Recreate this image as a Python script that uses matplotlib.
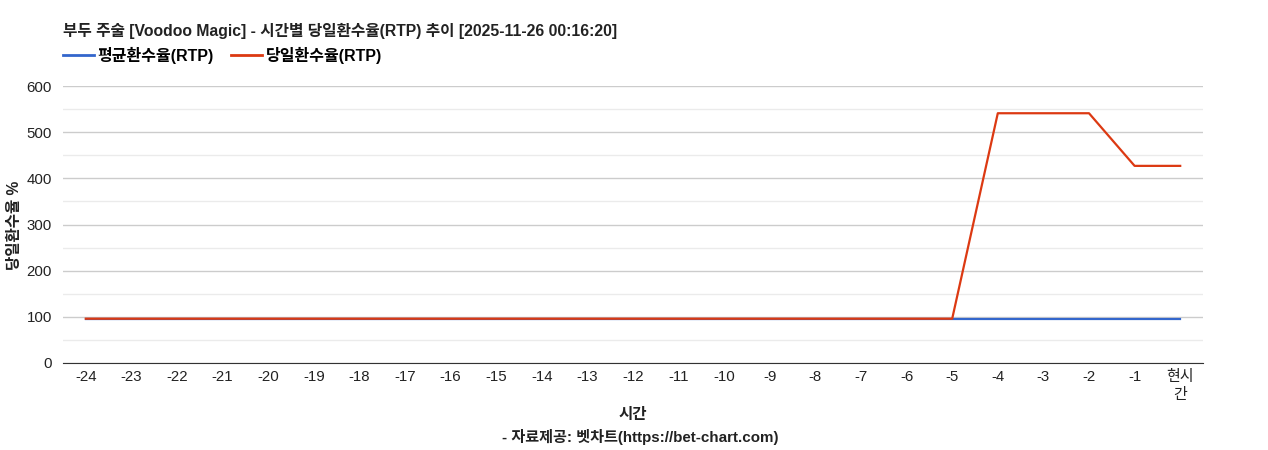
import matplotlib

matplotlib.use("Agg")
import matplotlib.pyplot as plt
from matplotlib.lines import Line2D

plt.rcParams["font.family"] = ["Liberation Sans", "Noto Sans CJK KR", "DejaVu Sans"]

TITLE = "부두 주술 [Voodoo Magic] - 시간별 당일환수율(RTP) 추이 [2025-11-26 00:16:20]"
hours = [str(h) for h in range(-24, 0)] + ["현시\n간"]
avg_rtp = [96] * 25
daily_rtp = [96] * 20 + [541, 541, 541, 427, 427]

COLORS = {
    "avg": "#3366cc",
    "daily": "#dc3912",
    "grid": "#cccccc",
    "minor": "#ebebeb",
    "text": "#222222",
}

W, H = 1268, 450
fig = plt.figure(figsize=(W / 100, H / 100), dpi=100)
ax = fig.add_axes([63 / W, 1 - 363 / H, 1140 / W, 277 / H])

x = list(range(len(hours)))
ax.plot(x, avg_rtp, color=COLORS["avg"], linewidth=1.6, zorder=3)
ax.plot(x, daily_rtp, color=COLORS["daily"], linewidth=1.6, zorder=4)

ax.set_xlim(-0.5, len(hours) - 0.5)
ax.set_ylim(0, 600)
ax.set_yticks(range(0, 601, 100))
ax.set_yticks(range(50, 600, 100), minor=True)
ax.grid(True, which="major", axis="y", color=COLORS["grid"], linewidth=1)
ax.grid(True, which="minor", axis="y", color=COLORS["minor"], linewidth=1)
ax.set_axisbelow(True)
ax.set_xticks(x, labels=hours)
for side in ("top", "right", "left"):
    ax.spines[side].set_visible(False)
ax.spines["bottom"].set_color("#333333")
ax.tick_params(axis="both", length=0, labelsize=10.8, colors=COLORS["text"])
ax.tick_params(axis="y", which="minor", length=0)
ax.tick_params(axis="x", pad=5)
ax.tick_params(axis="y", pad=8)
for lab in ax.get_xticklabels():
    lab.set_linespacing(1.35)
    lab.set_verticalalignment("top")

fig.text(15 / W, 1 - 225 / H, "당일환수율 %", rotation=90, ha="center", va="center",
         fontsize=11.2, fontweight="bold", color=COLORS["text"])
fig.text(633 / W, 1 - 415 / H, "시간", ha="center", va="center",
         fontsize=11.2, fontweight="bold", color=COLORS["text"])
fig.text(640 / W, 1 - 437 / H, "- 자료제공: 벳차트(https://bet-chart.com)", ha="center", va="center",
         fontsize=10.9, fontweight="bold", color=COLORS["text"])

fig.text(63 / W, 1 - 31 / H, TITLE, ha="left", va="center",
         fontsize=11.3, fontweight="bold", color=COLORS["text"])

handles = [
    Line2D([], [], color=COLORS["avg"], linewidth=2),
    Line2D([], [], color=COLORS["daily"], linewidth=2),
]
fig.legend(handles, ["평균환수율(RTP)", "당일환수율(RTP)"], loc="center left",
           bbox_to_anchor=(63 / W, 1 - 55 / H), ncol=2, frameon=False,
           borderpad=0, borderaxespad=0,
           handlelength=1.96, handletextpad=0.22, columnspacing=1.05,
           prop={"weight": "bold", "size": 11.5})

fig.savefig("out.png", dpi=100, facecolor="white")
